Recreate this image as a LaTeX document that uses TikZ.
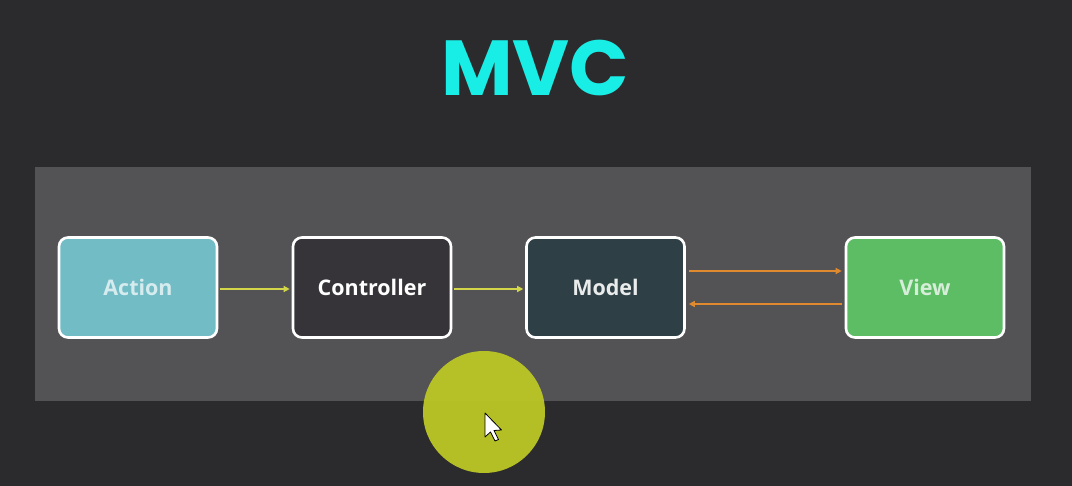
\documentclass[tikz,border=0pt]{standalone}
\usepackage{fontspec}
\setmainfont{Open Sans}
\newfontfamily\titlefont{Poppins}
\usetikzlibrary{arrows.meta}
\definecolor{bgc}{HTML}{2B2A2C}
\definecolor{panelc}{HTML}{535355}
\definecolor{actc}{HTML}{72BCC6}
\definecolor{ctrlc}{HTML}{363438}
\definecolor{modc}{HTML}{2E3F46}
\definecolor{viewc}{HTML}{5CBD65}
\definecolor{titlec}{HTML}{19EEE6}
\definecolor{yel}{HTML}{D4D64A}
\definecolor{ora}{HTML}{E08A30}
\definecolor{dotc}{HTML}{BAC626}
\tikzset{
  box/.style={draw=white, line width=2.6pt, rounded corners=9pt, minimum width=158pt, minimum height=100pt, inner sep=0pt, font=\fontsize{21.5}{24}\selectfont\bfseries},
  yarrow/.style={draw=yel, line width=1.3pt, -{Triangle[length=6pt,width=6pt]}},
  oarrow/.style={draw=ora, line width=1.3pt, -{Triangle[length=6pt,width=6pt]}}
}
\begin{document}
\begin{tikzpicture}[x=1pt,y=-1pt]
\fill[bgc] (0,0) rectangle (1072,486);
\useasboundingbox (0,0) rectangle (1072,486);
\fill[panelc] (35,167) rectangle (1031,401);
\node[font=\titlefont\fontsize{78}{80}\selectfont\bfseries, text=titlec] (title) at (535,68) {MVC};
\node[box, fill=actc, text=actc!30!white] (action) at (138,287.5) {\raisebox{-1.5pt}{Action}};
\node[box, fill=ctrlc, text=white] (ctrl) at (372,287.5) {\raisebox{-1.5pt}{Controller}};
\node[box, fill=modc, text=modc!10!white] (model) at (605.5,287.5) {\raisebox{-1.5pt}{Model}};
\node[box, fill=viewc, text=viewc!25!white] (view) at (925,287.5) {\raisebox{-1.5pt}{View}};
\draw[yarrow] ([yshift=-1.5pt,xshift=2pt]action.east) -- ([yshift=-1.5pt,xshift=-2pt]ctrl.west);
\draw[yarrow] ([yshift=-1.5pt,xshift=2pt]ctrl.east) -- ([yshift=-1.5pt,xshift=-2pt]model.west);
\draw[oarrow] ([yshift=16.5pt,xshift=3pt]model.east) -- ([yshift=16.5pt,xshift=-3pt]view.west);
\draw[oarrow] ([yshift=-16.5pt,xshift=-3pt]view.west) -- ([yshift=-16.5pt,xshift=3pt]model.east);
\fill[dotc, opacity=0.96] (484,412) circle (61);
\filldraw[fill=white, draw=black, line width=0.8pt, line join=round] (485,413) -- (485,437) -- (490.5,432) -- (495,441) -- (498.5,439.5) -- (494,430.5) -- (501.5,430) -- cycle;
\end{tikzpicture}
\end{document}
